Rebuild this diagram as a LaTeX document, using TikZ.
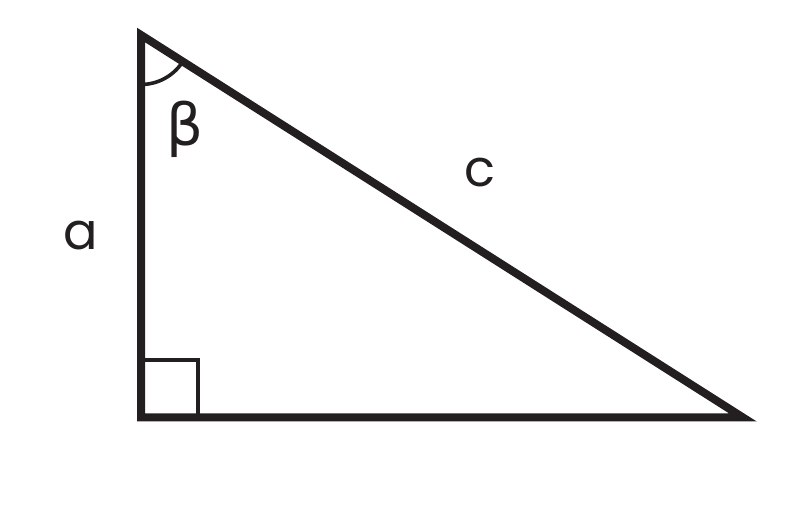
\documentclass[tikz,border=0pt]{standalone}
\usepackage{fontspec}
\setmainfont{Poppins}
\newfontfamily\greekfont{DejaVu Sans}
\definecolor{ink}{RGB}{35,31,32}
\begin{document}
\begin{tikzpicture}[x=1pt,y=1pt,
  side/.style={draw=ink,line width=8pt,line join=miter},
  anglemark/.style={draw=ink,line width=3.6pt},
  lbl/.style={inner sep=0pt,text=ink,font=\fontsize{51}{51}\selectfont}]
\useasboundingbox (0,0) rectangle (800,522);
\coordinate (A) at (141,487);
\coordinate (B) at (141,104.5);
\coordinate (C) at (743,104.5);
\path[side] (A) -- (B) -- (C) -- cycle;
\coordinate (Q) at (198,162);
\draw[anglemark] (B |- Q) -- (Q) -- (Q |- B);
\draw[anglemark] ([shift={(270:49.5)}]A) arc[start angle=270,end angle=327.6,radius=49.5];
\node[lbl] (la) at (81,286.5) {a};
\node[lbl] (lc) at (479.5,349) {c};
\node[lbl,font=\greekfont\fontsize{58}{58}\selectfont] (lb) at (185.5,393) {β};
\end{tikzpicture}
\end{document}
